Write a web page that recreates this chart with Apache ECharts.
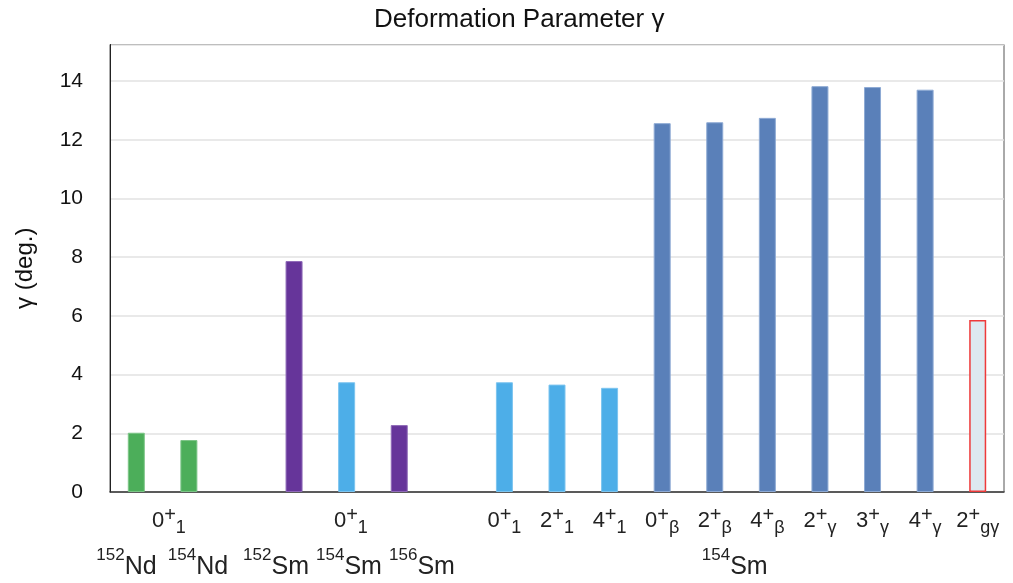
<!DOCTYPE html>
<html>
<head>
<meta charset="utf-8">
<script src="https://cdn.jsdelivr.net/npm/echarts@6/dist/echarts.min.js"></script>
<style>html,body{margin:0;padding:0;background:#fff}#c{width:1013px;height:583px}</style>
</head>
<body>
<div id="c"></div>
<script>
// ---- data ----
const categories = ['152Nd 0+1','154Nd 0+1','','152Sm 0+1','154Sm 0+1','156Sm 0+1','',
  '154Sm 0+1','154Sm 2+1','154Sm 4+1','154Sm 0+b','154Sm 2+b','154Sm 4+b',
  '154Sm 2+g','154Sm 3+g','154Sm 4+g','154Sm 2+gg'];
const gammaValues = [2.02, 1.77, null, 7.87, 3.74, 2.28, null,
  3.74, 3.66, 3.55, 12.57, 12.60, 12.75, 13.83, 13.80, 13.71, 5.86];
const barGroups = ['Nd','Nd','','SmA','SmB','SmA','',
  'SmB','SmB','SmB','SmC','SmC','SmC','SmC','SmC','SmC','SmD'];
const yTicks = [0, 2, 4, 6, 8, 10, 12, 14];
// level labels (row 1) and their tick values on the slot axis
const levelLabels = ['{m|0}{p|+}{s|1}','{m|0}{p|+}{s|1}',
  '{m|0}{p|+}{s|1}','{m|2}{p|+}{s|1}','{m|4}{p|+}{s|1}',
  '{m|0}{p|+}{s|β}','{m|2}{p|+}{s|β}','{m|4}{p|+}{s|β}',
  '{m|2}{p|+}{s|γ}','{m|3}{p|+}{s|γ}','{m|4}{p|+}{s|γ}','{m|2}{p|+}{s|gγ}'];
const levelTicks = [1.12, 4.58, 7.5, 8.5, 9.5, 10.5, 11.5, 12.5, 13.5, 14.5, 15.5, 16.5];
// nucleus labels (row 2)
const nucleusLabels = ['{p|152}{m|Nd}','{p|154}{m|Nd}','{p|152}{m|Sm}','{p|154}{m|Sm}','{p|156}{m|Sm}','{p|154}{m|Sm}'];
const nucleusTicks = [0.314, 1.673, 3.157, 4.545, 5.933, 11.88];

// ---- styles ----
const FONT = '"Liberation Sans", Arial, sans-serif';
const groupStyle = {
  Nd:  {color:'#4cae5a', borderColor:'#7cc587', borderWidth: 1},
  SmA: {color:'#66359a', borderColor:'#8f6ab8', borderWidth: 1},
  SmB: {color:'#4daee8', borderColor:'#7cc4ef', borderWidth: 1},
  SmC: {color:'#5a80b9', borderColor:'#8eaad4', borderWidth: 1},
  SmD: {color:'#dde9f0', borderColor:'#ee3a3a', borderWidth: 1.5}
};
const barData = gammaValues.map((v, i) => v == null ? null : {
  value: v,
  itemStyle: Object.assign({}, groupStyle[barGroups[i]])
});
function lookup(ticks, labels) {
  return function (val) {
    for (let i = 0; i < ticks.length; i++) if (Math.abs(ticks[i] - val) < 1e-6) return labels[i];
    return '';
  };
}
const row1Rich = {
  m: {fontSize: 22, fontFamily: FONT, color: '#222', lineHeight: 32, verticalAlign: 'middle'},
  p: {fontSize: 20, fontFamily: FONT, color: '#222', lineHeight: 17, verticalAlign: 'top'},
  s: {fontSize: 18, fontFamily: FONT, color: '#222', lineHeight: 16, verticalAlign: 'bottom'}
};
const row2Rich = {
  m: {fontSize: 25, fontFamily: FONT, color: '#222', lineHeight: 33, verticalAlign: 'bottom'},
  p: {fontSize: 17, fontFamily: FONT, color: '#222', lineHeight: 17, verticalAlign: 'top'}
};
const hiddenAxisBase = {
  type: 'value', min: 0, max: categories.length, position: 'bottom',
  axisLine: {show: false}, axisTick: {show: false}, splitLine: {show: false}
};

const chart = echarts.init(document.getElementById('c'), null, {renderer: 'canvas'});
chart.setOption({
  animation: false,
  backgroundColor: '#fff',
  title: {
    text: 'Deformation Parameter γ', left: 369, top: 2,
    textStyle: {fontSize: 26, fontWeight: 'normal', color: '#111', fontFamily: FONT}
  },
  grid: {left: 110, right: 9, top: 44.5, bottom: 91, show: true, borderColor: '#555', borderWidth: 1},
  xAxis: [
    {
      type: 'category', data: categories, position: 'bottom',
      axisLine: {show: true, lineStyle: {color: '#333', width: 1.5}},
      axisTick: {show: false}, axisLabel: {show: false}, splitLine: {show: false}
    },
    Object.assign({}, hiddenAxisBase, {
      axisLabel: {customValues: levelTicks, margin: 13, formatter: lookup(levelTicks, levelLabels), rich: row1Rich}
    }),
    Object.assign({}, hiddenAxisBase, {
      axisLabel: {customValues: nucleusTicks, margin: 55, formatter: lookup(nucleusTicks, nucleusLabels), rich: row2Rich}
    })
  ],
  yAxis: {
    type: 'value', min: 0, max: 15.25, interval: 2,
    name: 'γ (deg.)', nameLocation: 'middle', nameGap: 73, nameRotate: 90,
    nameTextStyle: {fontSize: 24, color: '#111', fontFamily: FONT},
    axisLine: {show: true, lineStyle: {color: '#222', width: 1}},
    axisTick: {show: false},
    axisLabel: {
      margin: 27, fontSize: 21, color: '#111', fontFamily: FONT,
      formatter: v => yTicks.indexOf(v) >= 0 ? String(v) : ''
    },
    splitLine: {show: true, lineStyle: {color: '#e2e2e2', width: 1.5}}
  },
  series: [{
    type: 'bar', data: barData, barWidth: 17, xAxisIndex: 0
  }]
});
</script>
</body>
</html>
